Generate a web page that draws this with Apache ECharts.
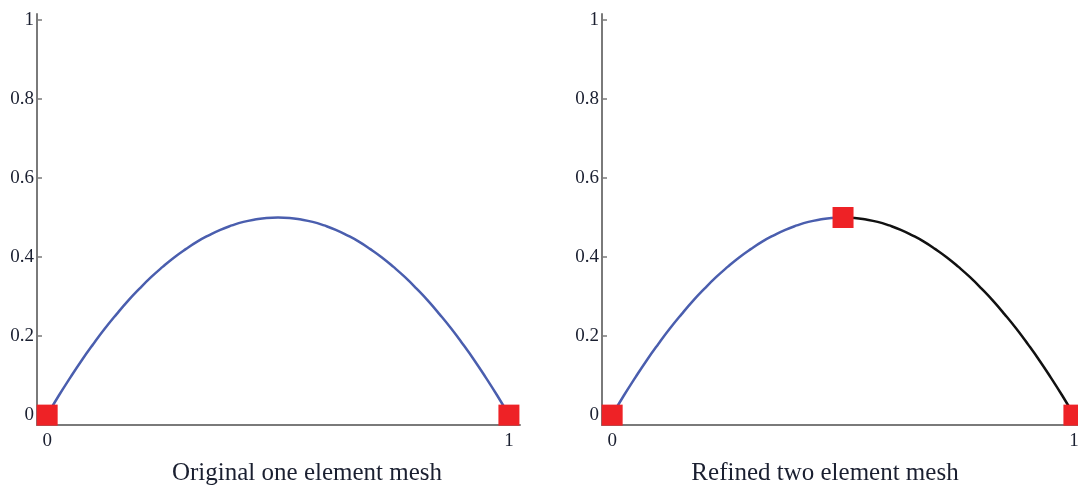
<!DOCTYPE html>
<html><head><meta charset="utf-8">
<script src="https://cdn.jsdelivr.net/npm/echarts@6/dist/echarts.min.js"></script>
<style>html,body{margin:0;padding:0;background:#fff}#c{width:1078px;height:496px}</style>
</head><body><div id="c"></div>
<script>
// values
const xs = [0,0.025,0.05,0.075,0.1,0.125,0.15,0.175,0.2,0.225,0.25,0.275,0.3,0.325,0.35,0.375,0.4,0.425,0.45,0.475,0.5,
            0.525,0.55,0.575,0.6,0.625,0.65,0.675,0.7,0.725,0.75,0.775,0.8,0.825,0.85,0.875,0.9,0.925,0.95,0.975,1];
const ys = [0,0.049,0.095,0.139,0.18,0.219,0.255,0.289,0.32,0.349,0.375,0.399,0.42,0.439,0.455,0.469,0.48,0.489,0.495,0.499,0.5,
            0.499,0.495,0.489,0.48,0.469,0.455,0.439,0.42,0.399,0.375,0.349,0.32,0.289,0.255,0.219,0.18,0.139,0.095,0.049,0];
const nodesLeft = [[0,0],[1,0]];
const nodesRight = [[0,0],[0.5,0.5],[1,0]];
const yTicks = [0,0.2,0.4,0.6,0.8,1];
const xTicks = [0,1];
const titles = ['Original one element mesh','Refined two element mesh'];

const pts = xs.map((x,i)=>[x,ys[i]]);
const firstHalf = pts.filter(p=>p[0]<=0.5);
const secondHalf = pts.filter(p=>p[0]>=0.5);

const font = '"Liberation Serif","DejaVu Serif",serif';
const txt = '#1a1f30';
function xAxis(idx){return {type:'value',gridIndex:idx,min:-0.022,max:1.024,
  axisLine:{onZero:false,lineStyle:{color:'#7a7a7a',width:2}},
  axisTick:{show:false},splitLine:{show:false},
  axisLabel:{customValues:xTicks,fontFamily:font,fontSize:19,color:txt,margin:7}};}
function yAxis(idx){return {type:'value',gridIndex:idx,min:-0.025,max:1.015,
  axisLine:{onZero:false,lineStyle:{color:'#7a7a7a',width:2}},
  axisTick:{customValues:yTicks,inside:true,length:5,lineStyle:{color:'#7a7a7a',width:1.5}},
  splitLine:{show:false},
  axisLabel:{customValues:yTicks,fontFamily:font,fontSize:19,color:txt,margin:3,padding:[4,0,0,0]}};}

const chart = echarts.init(document.getElementById('c'));
chart.setOption({
  animation:false,
  title:[
    {text:titles[0],left:302,top:456,textAlign:'center',textStyle:{fontFamily:font,fontSize:25,fontWeight:'normal',color:txt}},
    {text:titles[1],left:820,top:456,textAlign:'center',textStyle:{fontFamily:font,fontSize:25,fontWeight:'normal',color:txt}}
  ],
  grid:[{left:37,top:14,width:483,height:411,outerBoundsMode:'none'},
        {left:602,top:14,width:483,height:411,outerBoundsMode:'none'}],
  xAxis:[xAxis(0),xAxis(1)],
  yAxis:[yAxis(0),yAxis(1)],
  series:[
    {type:'line',xAxisIndex:0,yAxisIndex:0,data:pts,showSymbol:false,smooth:true,lineStyle:{color:'#4a5eae',width:2.5}},
    {type:'line',xAxisIndex:1,yAxisIndex:1,data:firstHalf,showSymbol:false,smooth:true,lineStyle:{color:'#4a5eae',width:2.5}},
    {type:'line',xAxisIndex:1,yAxisIndex:1,data:secondHalf,showSymbol:false,smooth:true,lineStyle:{color:'#111111',width:2.5}},
    {type:'scatter',xAxisIndex:0,yAxisIndex:0,data:nodesLeft,symbol:'rect',symbolSize:21,clip:false,itemStyle:{color:'#ee2226',opacity:1},z:5},
    {type:'scatter',xAxisIndex:1,yAxisIndex:1,data:nodesRight,symbol:'rect',symbolSize:21,clip:false,itemStyle:{color:'#ee2226',opacity:1},z:5}
  ]
});
</script></body></html>
